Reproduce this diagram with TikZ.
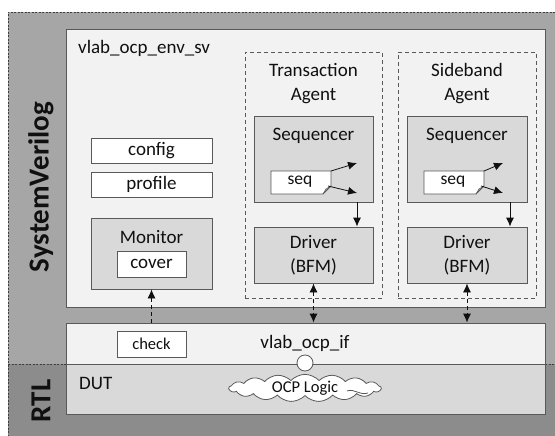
\documentclass[tikz,border=0pt]{standalone}
\usepackage{fontspec}
\setmainfont{Carlito}
\usetikzlibrary{arrows.meta,shapes.symbols}

\definecolor{svgray}{HTML}{A6A6A6}
\definecolor{rtlgray}{HTML}{8C8C8C}
\definecolor{lightbox}{HTML}{F2F2F2}
\definecolor{midbox}{HTML}{D9D9D9}
\definecolor{edge}{HTML}{595959}
\definecolor{ink}{HTML}{101010}

\tikzset{
  px/.style={x=1pt,y=-1pt},
  txt/.style={font=\fontsize{19}{24}\selectfont,text=ink,inner sep=0pt},
  smalltxt/.style={font=\fontsize{16.5}{19}\selectfont,text=ink,inner sep=0pt},
  sidelabel/.style={font=\fontsize{29}{32}\selectfont\bfseries,text=ink,rotate=90,inner sep=0pt},
  blk/.style={draw=edge,line width=0.8pt,rectangle,inner sep=0pt,
    minimum width=#1},
  lightblk/.style={blk=#1,fill=lightbox},
  midblk/.style={blk=#1,fill=midbox},
  whiteblk/.style={blk=#1,fill=white},
  agentbox/.style={draw=edge,line width=0.9pt,dash pattern=on 4pt off 3pt,
    rectangle,inner sep=0pt},
  tip/.style={-{Latex[length=9pt,width=8pt]},draw=ink,line width=0.8pt},
  dtip/.style={{Latex[length=9pt,width=8pt]}-{Latex[length=9pt,width=8pt]},
    draw=ink,line width=0.8pt,dash pattern=on 4pt off 3pt},
  dup/.style={-{Latex[length=9pt,width=8pt]},draw=ink,line width=0.8pt,
    dash pattern=on 4pt off 3pt},
}

\begin{document}
\begin{tikzpicture}[px]
\useasboundingbox (0,0) rectangle (555,436);
\begin{scope}
\clip (0,0) rectangle (555,436);
% background regions: SystemVerilog above, RTL below
\fill[svgray] (8,12) rectangle (560,364);
\fill[rtlgray] (8,364) rectangle (560,440);
\draw[edge!70!black,line width=0.7pt,dash pattern=on 2pt off 1.5pt]
  (8,440) -- (8,12) -- (560,12);
\draw[edge!70!black,line width=0.7pt,dash pattern=on 2pt off 1.5pt]
  (8,364) -- (66,364) (545,364) -- (560,364);
\end{scope}

\node[sidelabel] (svlab) at (41,187) {SystemVerilog};
\node[sidelabel] (rtllab) at (41,401) {RTL};

% environment container
\node[lightblk=479pt,minimum height=278pt] (env) at (305.5,168) {};
\node[txt,anchor=west] (envlab) at (78,48) {vlab\_ocp\_env\_sv};

% interface and DUT
\node[lightblk=479pt,minimum height=41pt] (ifc) at (305.5,343.5) {};
\node[midblk=479pt,minimum height=50pt] (dut) at (305.5,389) {};
\node[txt] (ifclab) at (305,343) {vlab\_ocp\_if};
\node[txt,anchor=west] (dutlab) at (79,383) {DUT};
\node[whiteblk=69pt,minimum height=26pt,smalltxt] (check) at (151.5,344) {check};

% OCP logic cloud with its port
\node[cloud,cloud puffs=17,cloud puff arc=95,cloud ignores aspect,draw=edge,
  line width=0.8pt,fill=white,minimum width=152pt,minimum height=24pt,
  inner sep=0pt,smalltxt] (ocp) at (305,388) {OCP Logic};
\draw[edge,line width=0.8pt] (347,391) .. controls (354,388) and (360,396) .. (368,393);
\node[circle,draw=edge,line width=0.8pt,fill=white,minimum size=16pt,
  inner sep=0pt] (port) at (305,363) {};

% left column
\node[whiteblk=121pt,minimum height=25pt,txt] (config) at (151.5,150.5) {config};
\node[whiteblk=121pt,minimum height=25pt,txt] (profile) at (151.5,184.5) {profile};
\node[midblk=121pt,minimum height=71pt] (monitor) at (151.5,253.5) {};
\node[txt] (monlab) at (151.5,237) {Monitor};
\node[whiteblk=69pt,minimum height=26pt,txt] (cover) at (151.5,264) {cover};

% agents
\node[agentbox,minimum width=137pt,minimum height=246pt] (tagent) at (313.5,175) {};
\node[agentbox,minimum width=138pt,minimum height=246pt] (sagent) at (467,175) {};
\node[txt,align=center] (tagentlab) at (313.5,84) {Transaction\\Agent};
\node[txt,align=center] (sagentlab) at (467,84) {Sideband\\Agent};

% sequencers
\node[midblk=119pt,minimum height=86pt] (tseqr) at (313.5,159) {};
\node[midblk=120pt,minimum height=86pt] (sseqr) at (467,159) {};
\node[txt] (tseqrlab) at (313.5,136) {Sequencer};
\node[txt] (sseqrlab) at (467,136) {Sequencer};

% drivers
\node[midblk=119pt,minimum height=56pt,txt,align=center] (tdrv) at (313.5,255) {Driver\\(BFM)};
\node[midblk=120pt,minimum height=56pt,txt,align=center] (sdrv) at (467,255) {Driver\\(BFM)};

% sequence items with a folded corner
\foreach \nm/\x in {tseq/271,sseq/424}{
  \fill[white] (\x,171) -- (\x+60,171) -- (\x+60,186) -- (\x+52,194) -- (\x,194) -- cycle;
  \fill[midbox!80!black] (\x+52,194) -- (\x+55,189) -- (\x+60,186) -- cycle;
  \draw[edge,line width=0.8pt] (\x,171) -- (\x+60,171) -- (\x+60,186) -- (\x+52,194) -- (\x,194) -- cycle;
  \draw[edge,line width=0.6pt] (\x+52,194) -- (\x+55,189) -- (\x+60,186);
  \node[smalltxt,font=\fontsize{17.5}{19}\selectfont,minimum width=52pt,minimum height=23pt] (\nm) at (\x+29,182) {seq};
}
\coordinate (tseqa) at (331,171);
\coordinate (tseqb) at (328,186);
\coordinate (tseqa2) at (357,163);
\coordinate (tseqb2) at (357,193);
\coordinate (sseqa) at (484,171);
\coordinate (sseqb) at (481,186);
\coordinate (sseqa2) at (503,163);
\coordinate (sseqb2) at (503,193);
\draw[tip] (tseqa) -- (tseqa2);
\draw[tip] (tseqb) -- (tseqb2);
\draw[tip] (sseqa) -- (sseqa2);
\draw[tip] (sseqb) -- (sseqb2);

% sequencer to driver
\draw[tip] (tseqr.south -| 357,0) -- (tdrv.north -| 357,0);
\draw[tip] (sseqr.south -| 510,0) -- (sdrv.north -| 510,0);

% drivers to interface, interface to monitor
\draw[dtip] (tdrv.south) -- (tdrv.south |- ifc.north);
\draw[dtip] (sdrv.south) -- (sdrv.south |- ifc.north);
\draw[dup] (monitor.south |- ifc.north) -- (monitor.south);
\end{tikzpicture}
\end{document}
